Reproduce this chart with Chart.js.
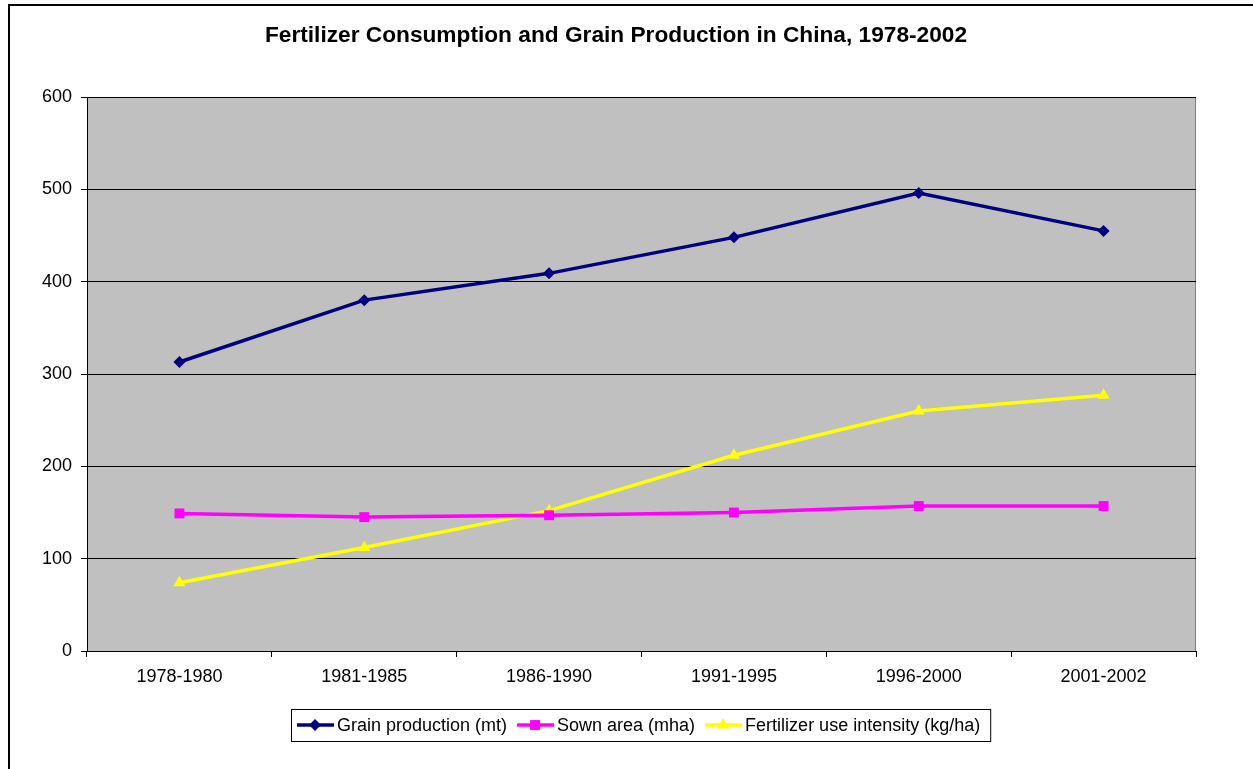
<!DOCTYPE html>
<html>
<head>
<meta charset="utf-8">
<title>Fertilizer Consumption and Grain Production in China</title>
<script src="https://cdn.jsdelivr.net/npm/chart.js@4/dist/chart.umd.min.js"></script>
<style>
  html, body { margin: 0; padding: 0; background: #fff; }
  #wrap { position: relative; width: 1253px; height: 769px; overflow: hidden; }
</style>
</head>
<body>
<div id="wrap"><canvas id="chart" width="1253" height="769"></canvas></div>
<script>
var TITLE = 'Fertilizer Consumption and Grain Production in China, 1978-2002';
var periods = ['1978-1980', '1981-1985', '1986-1990', '1991-1995', '1996-2000', '2001-2002'];
var grainProduction = [313, 380, 409, 448, 496, 455];
var sownArea = [149, 145, 147, 150, 157, 157];
var fertilizerIntensity = [74, 112, 152, 212, 260, 277];

var FONT = 'Arial, "Liberation Sans", Helvetica, sans-serif';

// grey plot area, outer frame, title and boxed legend (Excel style)
var excelLook = {
  id: 'excelLook',
  beforeDraw: function (chart) {
    var ctx = chart.ctx, a = chart.chartArea;
    ctx.save();
    ctx.fillStyle = '#fff';
    ctx.fillRect(0, 0, chart.width, chart.height);
    ctx.strokeStyle = '#000';
    ctx.lineWidth = 2;
    ctx.strokeRect(9, 5, chart.width + 20, chart.height + 20);
    ctx.fillStyle = '#c0c0c0';
    ctx.fillRect(a.left, a.top, a.right - a.left, a.bottom - a.top);
    ctx.strokeStyle = '#808080';
    ctx.lineWidth = 1;
    ctx.beginPath();
    ctx.moveTo(a.right - 0.5, a.top);
    ctx.lineTo(a.right - 0.5, a.bottom);
    ctx.stroke();
    ctx.restore();
  },
  afterDraw: function (chart) {
    var ctx = chart.ctx;
    ctx.save();
    ctx.fillStyle = '#000';
    ctx.font = 'bold 22.7px ' + FONT;
    ctx.textAlign = 'center';
    ctx.textBaseline = 'middle';
    ctx.fillText(TITLE, 616, 36);

    // legend
    ctx.font = '18px ' + FONT;
    var x0 = 291, y0 = 709, h = 32, y = y0 + h / 2;
    var x = x0 + 6;
    var items = chart.data.datasets.map(function (ds) {
      return { ds: ds, w: ctx.measureText(ds.label).width };
    });
    var total = 6;
    items.forEach(function (it) { total += 40 + it.w + 10; });
    ctx.fillStyle = '#fff';
    ctx.fillRect(x0, y0, total, h);
    ctx.strokeStyle = '#000';
    ctx.lineWidth = 1;
    ctx.strokeRect(x0 + 0.5, y0 + 0.5, total, h);
    items.forEach(function (it) {
      var ds = it.ds;
      ctx.strokeStyle = ds.borderColor;
      ctx.lineWidth = 3.5;
      ctx.beginPath();
      ctx.moveTo(x, y);
      ctx.lineTo(x + 37, y);
      ctx.stroke();
      ctx.fillStyle = ds.pointBackgroundColor;
      Chart.helpers.drawPoint(ctx, { pointStyle: ds.pointStyle, radius: ds.pointRadius, borderWidth: 0 }, x + 18, y);
      ctx.fillStyle = '#000';
      ctx.textAlign = 'left';
      ctx.textBaseline = 'middle';
      ctx.fillText(ds.label, x + 40, y + 1);
      x += 40 + it.w + 10;
    });
    ctx.restore();
  }
};

function series(label, data, color, style, radius) {
  return {
    label: label,
    data: data,
    borderColor: color,
    backgroundColor: color,
    pointBackgroundColor: color,
    pointBorderColor: color,
    pointBorderWidth: 0,
    pointStyle: style,
    pointRadius: radius,
    pointHoverRadius: radius,
    borderWidth: 3.5,
    tension: 0
  };
}

new Chart(document.getElementById('chart'), {
  type: 'line',
  data: {
    labels: periods,
    datasets: [
      series('Grain production (mt)', grainProduction, '#000080', 'rectRot', 6),
      series('Sown area (mha)', sownArea, '#ff00ff', 'rect', 7),
      series('Fertilizer use intensity (kg/ha)', fertilizerIntensity, '#ffff00', 'triangle', 7)
    ]
  },
  options: {
    responsive: false,
    animation: false,
    layout: { padding: { left: 0, right: 57, top: 97, bottom: 78 } },
    plugins: {
      legend: { display: false },
      title: { display: false },
      tooltip: { enabled: false }
    },
    scales: {
      x: {
        offset: true,
        grid: { offset: true, drawOnChartArea: false, color: '#000', tickLength: 6, lineWidth: 1 },
        border: { color: '#000', width: 1 },
        ticks: { color: '#000', font: { family: FONT, size: 18 }, padding: 9, maxRotation: 0 },
        afterFit: function (s) { s.height = 40; }
      },
      y: {
        min: 0,
        max: 600,
        ticks: { stepSize: 100, color: '#000', font: { family: FONT, size: 18 }, padding: 9 },
        grid: { color: '#000', tickLength: 6, lineWidth: 1 },
        border: { color: '#000', width: 1 },
        afterFit: function (s) { s.width = 87; }
      }
    }
  },
  plugins: [excelLook]
});
</script>
</body>
</html>
